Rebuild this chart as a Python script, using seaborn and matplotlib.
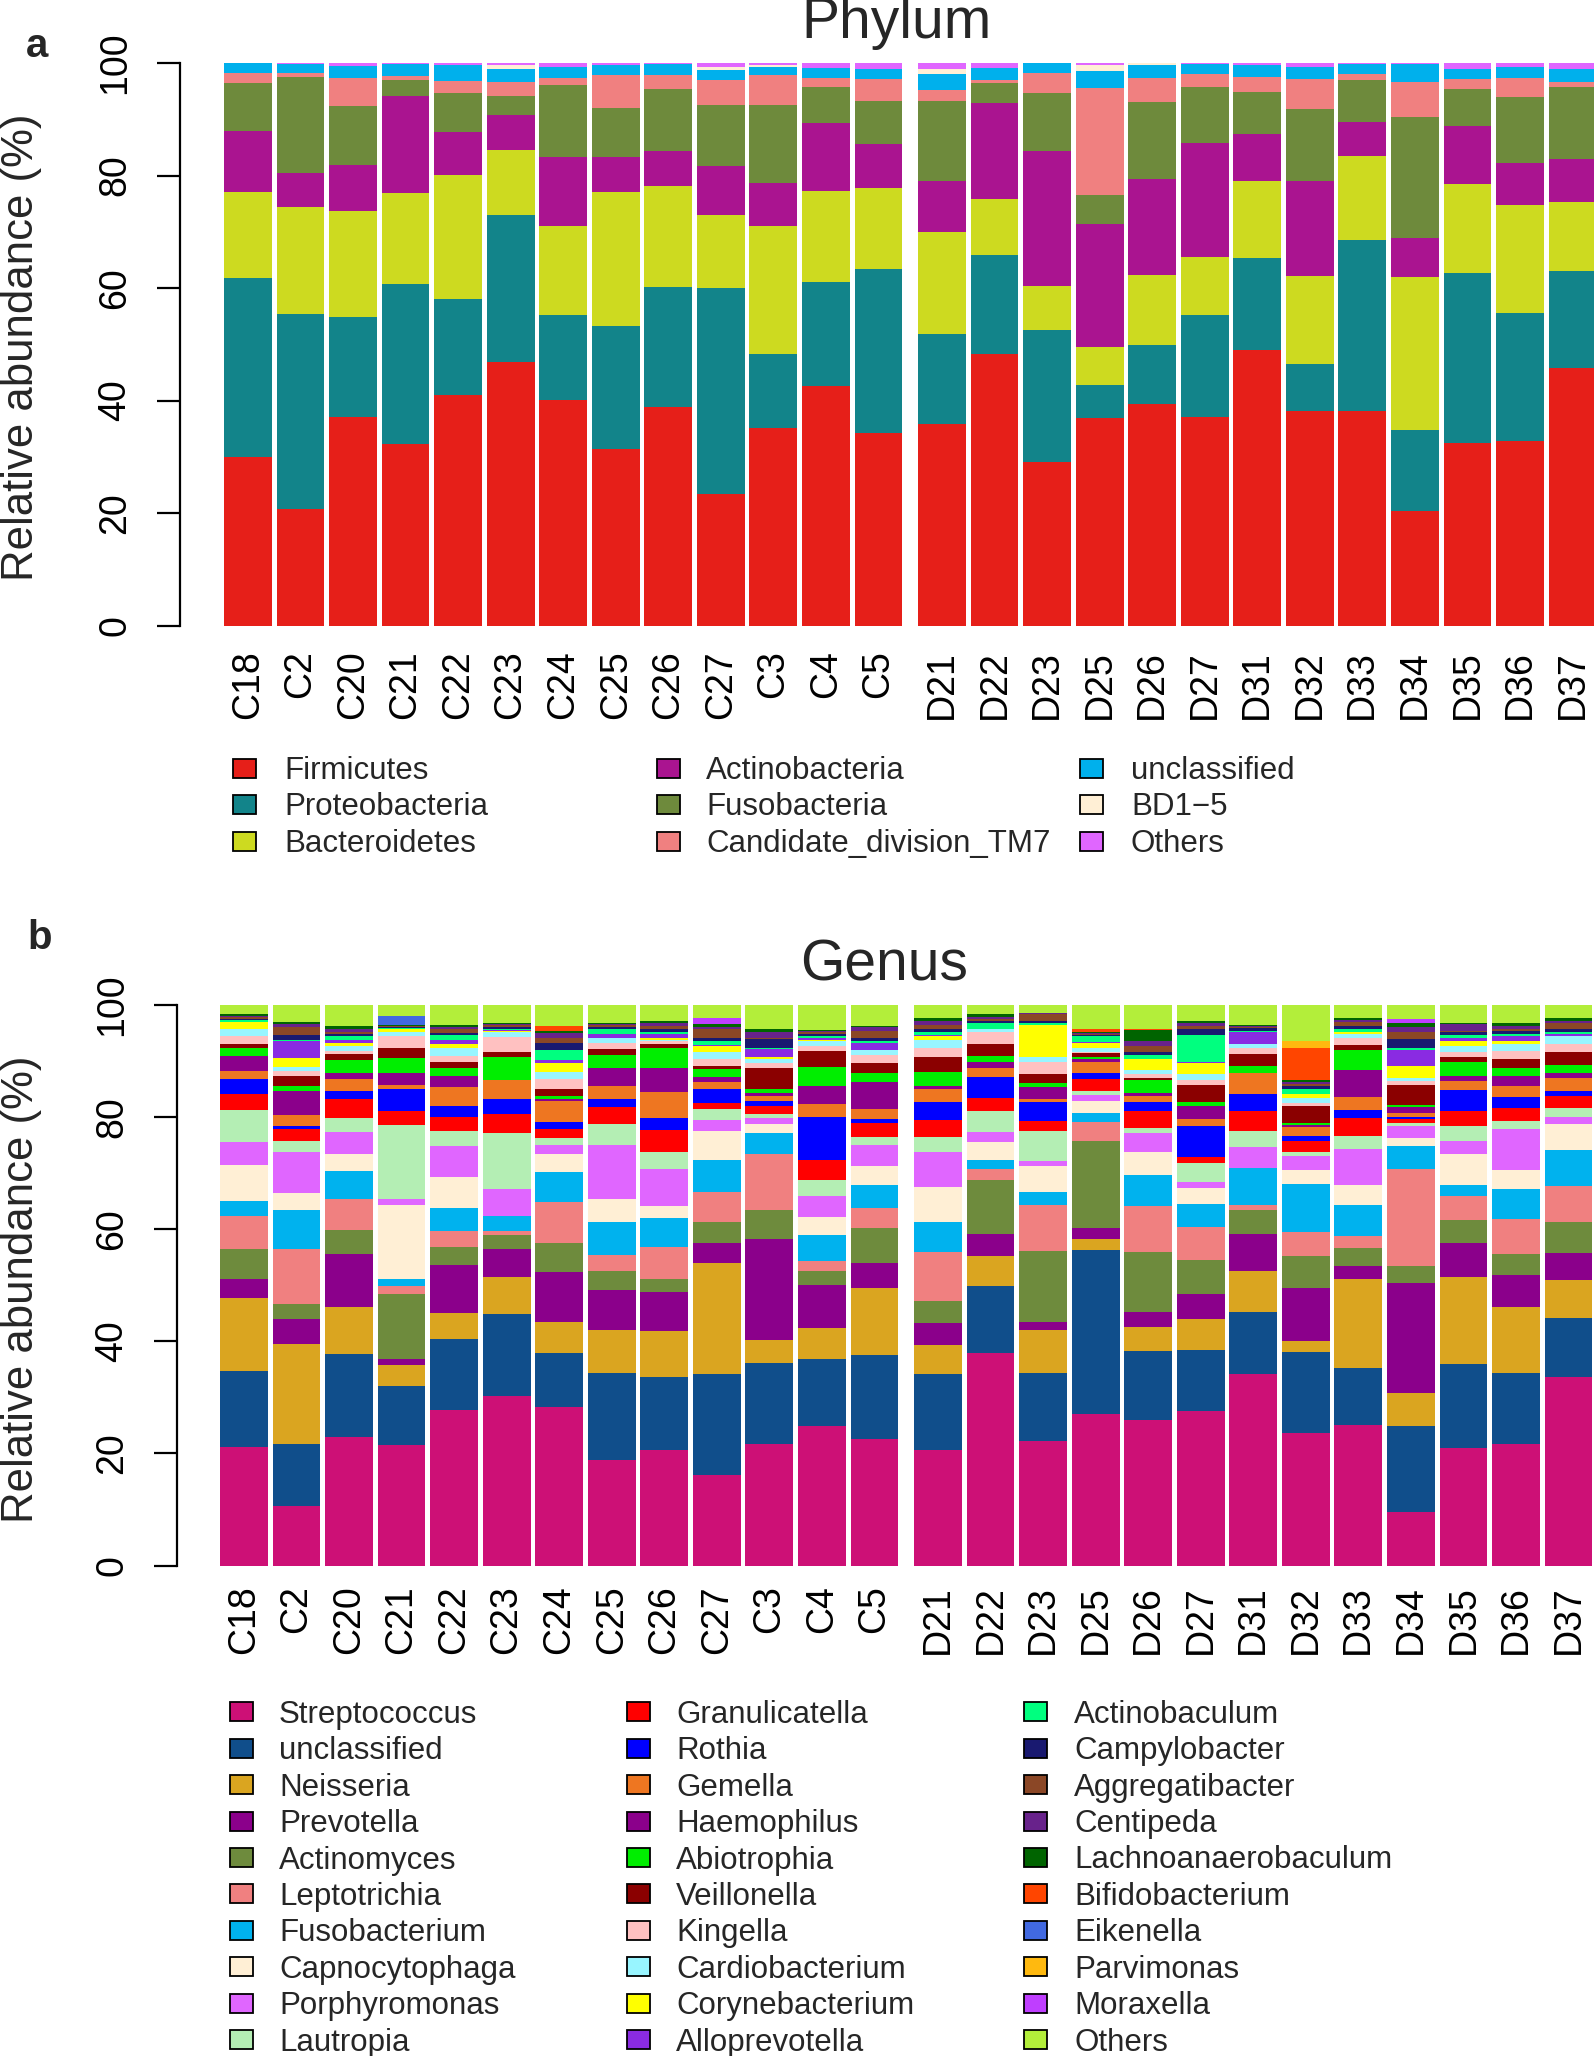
import numpy as np
import pandas as pd
import matplotlib
matplotlib.use("Agg")
import matplotlib.pyplot as plt
from matplotlib.patches import Rectangle
import seaborn as sns

# ---------------- data ----------------
samples = ["C18", "C2", "C20", "C21", "C22", "C23", "C24", "C25", "C26", "C27", "C3", "C4", "C5",
           "D21", "D22", "D23", "D25", "D26", "D27", "D31", "D32", "D33", "D34", "D35", "D36", "D37"]

phyla = ["Firmicutes", "Proteobacteria", "Bacteroidetes", "Actinobacteria", "Fusobacteria",
         "Candidate_division_TM7", "unclassified", "BD1\u22125", "Others"]
phylum_colors = ["#E61F19", "#12848A", "#CDDA20", "#AA1490", "#6E8A3C",
                 "#F08080", "#00B0EC", "#FFEFD5", "#E066FF"]

# phylum abundance (%) per sample, in the order of `phyla`
phy_C18 = [30.0, 31.8, 15.2, 11.0, 8.5, 1.7, 1.8, 0.0, 0.0]
phy_C2 = [20.8, 34.6, 19.0, 6.0, 17.2, 0.7, 1.6, 0.0, 0.1]
phy_C20 = [37.1, 17.8, 18.7, 8.2, 10.6, 4.9, 2.2, 0.0, 0.5]
phy_C21 = [32.2, 28.5, 16.1, 17.4, 2.8, 0.7, 2.2, 0.0, 0.1]
phy_C22 = [40.9, 17.2, 22.0, 7.6, 7.0, 2.1, 2.9, 0.0, 0.3]
phy_C23 = [46.8, 26.1, 11.6, 6.2, 3.4, 2.6, 2.3, 0.6, 0.4]
phy_C24 = [40.1, 15.1, 15.8, 12.3, 12.8, 1.2, 2.0, 0.0, 0.7]
phy_C25 = [31.3, 22.0, 23.7, 6.3, 8.7, 5.9, 1.7, 0.0, 0.4]
phy_C26 = [38.8, 21.3, 18.1, 6.1, 11.1, 2.4, 2.0, 0.0, 0.2]
phy_C27 = [23.4, 36.6, 12.9, 8.7, 11.0, 4.3, 1.8, 0.6, 0.7]
phy_C3 = [35.2, 13.0, 22.8, 7.6, 14.0, 5.2, 1.5, 0.3, 0.4]
phy_C4 = [42.5, 18.5, 16.3, 12.1, 6.3, 1.6, 1.9, 0.0, 0.8]
phy_C5 = [34.2, 29.2, 14.4, 7.8, 7.6, 4.0, 1.8, 0.0, 1.0]
phy_D21 = [35.8, 16.0, 18.1, 9.2, 14.1, 2.0, 2.9, 0.9, 1.0]
phy_D22 = [48.2, 17.7, 9.9, 17.1, 3.5, 0.5, 2.2, 0.0, 0.9]
phy_D23 = [29.0, 23.6, 7.8, 23.9, 10.4, 3.5, 1.8, 0.0, 0.0]
phy_D25 = [36.9, 5.8, 6.8, 21.9, 5.1, 19.0, 3.0, 1.1, 0.4]
phy_D26 = [39.3, 10.6, 12.4, 17.0, 13.8, 4.2, 2.4, 0.3, 0.0]
phy_D27 = [37.1, 18.1, 10.3, 20.3, 10.0, 2.2, 1.9, 0.0, 0.1]
phy_D31 = [49.0, 16.4, 13.6, 8.3, 7.5, 2.8, 2.1, 0.0, 0.3]
phy_D32 = [38.2, 8.2, 15.7, 16.9, 12.8, 5.3, 2.2, 0.0, 0.7]
phy_D33 = [38.1, 30.5, 14.9, 6.0, 7.4, 1.1, 1.9, 0.0, 0.1]
phy_D34 = [20.3, 14.5, 27.2, 6.9, 21.5, 6.3, 3.1, 0.0, 0.2]
phy_D35 = [32.5, 30.2, 15.8, 10.3, 6.6, 1.7, 1.9, 0.0, 1.0]
phy_D36 = [32.8, 22.8, 19.2, 7.4, 11.8, 3.3, 2.0, 0.0, 0.7]
phy_D37 = [45.7, 17.4, 12.2, 7.6, 12.8, 1.0, 2.3, 0.0, 1.0]

genera = ["Streptococcus", "unclassified", "Neisseria", "Prevotella", "Actinomyces",
          "Leptotrichia", "Fusobacterium", "Capnocytophaga", "Porphyromonas", "Lautropia",
          "Granulicatella", "Rothia", "Gemella", "Haemophilus", "Abiotrophia",
          "Veillonella", "Kingella", "Cardiobacterium", "Corynebacterium", "Alloprevotella",
          "Actinobaculum", "Campylobacter", "Aggregatibacter", "Centipeda", "Lachnoanaerobaculum",
          "Bifidobacterium", "Eikenella", "Parvimonas", "Moraxella", "Others"]
genus_colors = ["#CD1076", "#104E8B", "#DAA520", "#8B008B", "#6E8B3D",
                "#F08080", "#00B2EE", "#FFEFD5", "#E066FF", "#B4EEB4",
                "#FF0000", "#0000FF", "#EE7621", "#8B008B", "#00EE00",
                "#8B0000", "#FFC1C1", "#98F5FF", "#FFFF00", "#8A2BE2",
                "#00FF7F", "#191970", "#8B4726", "#68228B", "#006400",
                "#FF4500", "#4169E1", "#FFB90F", "#BF3EFF", "#B3EE3A"]

# genus abundance (%) per sample, in the order of `genera`
gen_C18 = [21.1, 13.6, 13.1, 3.4, 5.3, 5.8, 2.7, 6.4, 4.2, 5.6,
           2.9, 2.7, 1.4, 2.7, 1.4, 0.7, 1.4, 1.3, 1.3, 0.0,
           0.3, 0.2, 0.3, 0.2, 0.4, 0.0, 0.0, 0.0, 0.0, 1.6]
gen_C2 = [10.7, 11.0, 17.9, 4.3, 2.7, 9.9, 7.0, 2.9, 7.3, 2.0,
          2.1, 0.7, 1.8, 4.4, 0.9, 1.8, 0.8, 0.7, 1.7, 2.9,
          0.3, 0.9, 1.4, 0.5, 0.3, 0.0, 0.0, 0.0, 0.0, 3.1]
gen_C20 = [23.0, 14.8, 8.4, 9.4, 4.3, 5.4, 5.0, 3.1, 3.9, 2.5,
           3.4, 1.5, 2.1, 1.1, 2.2, 1.1, 0.6, 0.8, 0.7, 0.5,
           0.6, 0.4, 0.4, 0.5, 0.5, 0.0, 0.0, 0.0, 0.0, 3.8]
gen_C21 = [21.5, 10.6, 3.7, 1.0, 11.6, 1.5, 1.3, 13.2, 1.0, 13.2,
           2.5, 3.9, 0.7, 2.2, 2.7, 1.7, 2.1, 0.7, 0.6, 0.1,
           0.1, 0.1, 0.2, 0.1, 0.1, 0.0, 1.6, 0.0, 0.0, 2.1]
gen_C22 = [27.8, 12.6, 4.7, 8.6, 3.2, 2.8, 4.1, 5.5, 5.6, 2.6,
           2.5, 2.0, 3.3, 2.1, 1.3, 1.1, 1.1, 1.5, 0.6, 0.7,
           0.9, 0.4, 0.7, 0.3, 0.5, 0.0, 0.0, 0.0, 0.0, 3.5]
gen_C23 = [30.3, 14.6, 6.5, 5.0, 2.6, 0.7, 2.7, 0.0, 4.7, 10.1,
           3.4, 2.7, 3.3, 0.0, 4.2, 0.9, 2.6, 0.8, 0.2, 0.3,
           0.2, 0.3, 0.3, 0.2, 0.2, 0.0, 0.0, 0.0, 0.0, 3.2]
gen_C24 = [28.2, 9.8, 5.4, 9.0, 5.2, 7.3, 5.3, 3.2, 1.7, 1.1,
           1.6, 1.3, 3.7, 0.4, 0.6, 1.3, 1.7, 1.2, 1.6, 0.6,
           1.7, 1.3, 1.0, 0.8, 0.4, 0.9, 0.0, 0.0, 0.0, 3.7]
gen_C25 = [18.8, 15.5, 7.8, 7.1, 3.3, 2.9, 5.9, 4.0, 9.8, 3.7,
           3.0, 1.4, 2.4, 3.1, 2.4, 1.1, 1.0, 0.9, 0.0, 0.7,
           0.9, 0.4, 0.3, 0.2, 0.2, 0.0, 0.0, 0.0, 0.0, 3.2]
gen_C26 = [20.6, 13.0, 8.2, 7.0, 2.4, 5.7, 5.1, 2.1, 6.7, 2.9,
           4.0, 2.2, 4.5, 4.3, 3.6, 0.7, 0.5, 0.3, 0.4, 0.6,
           0.4, 0.5, 0.6, 0.4, 0.5, 0.0, 0.0, 0.0, 0.0, 2.8]
gen_C27 = [16.1, 18.0, 19.8, 3.7, 3.7, 5.4, 5.6, 5.3, 1.9, 1.9,
           1.2, 2.5, 1.1, 0.9, 1.5, 0.5, 1.2, 1.4, 0.9, 0.3,
           0.6, 0.6, 1.6, 0.4, 0.5, 0.0, 0.0, 0.0, 1.1, 2.3]
gen_C3 = [21.7, 14.5, 4.0, 18.0, 5.2, 10.0, 3.8, 1.5, 1.1, 0.7,
          1.5, 0.8, 1.0, 0.5, 0.7, 3.8, 0.8, 0.7, 0.4, 1.4,
          0.3, 1.5, 0.2, 1.0, 0.6, 0.0, 0.0, 0.0, 0.0, 4.3]
gen_C4 = [24.8, 12.0, 5.5, 7.7, 2.6, 1.8, 4.5, 3.3, 3.7, 2.8,
          3.6, 7.8, 2.3, 3.1, 3.4, 2.9, 0.9, 0.8, 0.3, 0.3,
          0.3, 0.4, 0.3, 0.3, 0.2, 0.0, 0.0, 0.0, 0.0, 4.4]
gen_C5 = [22.6, 15.0, 11.9, 4.4, 6.3, 3.6, 4.0, 3.5, 3.8, 1.3,
          2.6, 0.7, 1.7, 4.9, 1.5, 1.9, 1.3, 0.9, 0.0, 1.4,
          0.3, 0.6, 1.2, 0.6, 0.2, 0.0, 0.0, 0.0, 0.0, 3.8]
gen_D21 = [20.6, 13.5, 5.3, 3.9, 3.9, 8.7, 5.3, 6.3, 6.2, 2.8,
           3.0, 3.2, 2.3, 0.5, 2.6, 2.7, 1.6, 1.4, 0.6, 0.2,
           0.6, 0.5, 0.8, 0.6, 0.5, 0.0, 0.0, 0.0, 0.0, 2.4]
gen_D22 = [38.0, 11.9, 5.4, 3.8, 9.7, 1.9, 1.6, 3.3, 1.8, 3.7,
           2.3, 3.8, 1.5, 1.2, 1.0, 2.1, 2.1, 0.6, 0.0, 0.1,
           1.0, 0.4, 0.3, 0.4, 0.5, 0.0, 0.0, 0.0, 0.0, 1.6]
gen_D23 = [22.3, 12.0, 7.8, 1.4, 12.6, 8.3, 2.2, 4.6, 1.0, 5.3,
           1.8, 3.4, 0.5, 2.1, 0.7, 1.7, 2.2, 0.8, 5.7, 0.0,
           0.4, 0.4, 1.2, 0.2, 0.0, 0.0, 0.0, 0.0, 0.0, 1.4]
gen_D25 = [27.0, 29.3, 2.0, 1.9, 15.5, 3.5, 1.6, 2.0, 1.1, 0.7,
           2.2, 1.0, 2.1, 0.5, 0.4, 0.6, 0.3, 0.7, 0.9, 0.1,
           1.0, 0.2, 0.2, 0.2, 0.1, 0.7, 0.0, 0.0, 0.0, 4.2]
gen_D26 = [25.9, 12.3, 4.3, 2.8, 10.6, 8.2, 5.5, 4.1, 3.4, 1.0,
           2.9, 1.7, 1.1, 0.5, 2.3, 0.4, 0.7, 0.7, 1.9, 0.0,
           0.8, 0.6, 0.9, 1.0, 1.9, 0.3, 0.0, 0.0, 0.0, 4.2]
gen_D27 = [27.6, 10.8, 5.5, 4.6, 6.0, 5.9, 4.1, 2.8, 1.2, 3.3,
           1.0, 5.6, 1.3, 2.3, 0.7, 3.0, 0.9, 1.1, 1.9, 0.3,
           4.7, 1.1, 0.6, 0.5, 0.3, 0.0, 0.0, 0.0, 0.0, 2.9]
gen_D31 = [34.1, 11.2, 7.2, 6.7, 4.2, 0.9, 6.7, 0.0, 3.6, 2.9,
           3.5, 3.1, 3.7, 0.0, 1.4, 2.0, 1.2, 0.6, 0.0, 2.1,
           0.3, 0.5, 0.2, 0.2, 0.1, 0.0, 0.0, 0.0, 0.0, 3.6]
gen_D32 = [23.7, 14.4, 1.9, 9.5, 5.8, 4.2, 8.5, 2.6, 2.4, 0.7,
           2.0, 0.9, 1.7, 0.3, 0.4, 2.9, 0.7, 0.8, 0.7, 0.0,
           1.0, 0.5, 0.3, 0.3, 0.4, 5.7, 0.0, 1.2, 0.0, 6.5]
gen_D33 = [25.1, 10.2, 15.9, 2.3, 3.2, 2.1, 5.5, 3.5, 6.5, 2.4,
           3.1, 1.4, 2.3, 4.9, 3.6, 0.9, 1.3, 0.6, 0.3, 0.1,
           0.5, 0.6, 0.7, 0.3, 0.3, 0.0, 0.0, 0.0, 0.0, 2.4]
gen_D34 = [9.6, 15.3, 5.8, 19.7, 3.1, 17.3, 4.1, 1.4, 2.1, 0.5,
           0.8, 0.4, 0.6, 1.1, 0.4, 3.5, 0.8, 0.4, 2.3, 2.8,
           0.4, 1.5, 1.3, 0.9, 0.6, 0.0, 0.0, 0.0, 0.8, 2.5]
gen_D35 = [21.0, 14.9, 15.6, 6.1, 4.0, 4.4, 1.9, 5.5, 2.3, 2.8,
           2.6, 3.8, 1.6, 0.9, 2.4, 1.0, 0.9, 1.0, 0.8, 0.6,
           0.5, 0.5, 0.2, 1.3, 0.1, 0.0, 0.0, 0.0, 0.0, 3.3]
gen_D36 = [21.7, 12.7, 11.7, 5.7, 3.7, 6.3, 5.4, 3.3, 7.4, 1.4,
           2.3, 1.9, 2.1, 1.7, 1.5, 1.6, 1.4, 1.2, 0.6, 0.9,
           0.4, 0.4, 0.4, 0.5, 0.6, 0.0, 0.0, 0.0, 0.0, 3.2]
gen_D37 = [33.6, 10.6, 6.8, 4.7, 5.5, 6.5, 6.4, 4.6, 1.4, 1.5,
           2.2, 0.8, 2.3, 0.9, 1.5, 2.3, 1.4, 1.5, 0.0, 0.4,
           0.3, 0.6, 0.9, 0.4, 0.5, 0.0, 0.0, 0.0, 0.0, 2.4]

phylum_rows = [phy_C18, phy_C2, phy_C20, phy_C21, phy_C22, phy_C23, phy_C24, phy_C25, phy_C26,
               phy_C27, phy_C3, phy_C4, phy_C5, phy_D21, phy_D22, phy_D23, phy_D25, phy_D26,
               phy_D27, phy_D31, phy_D32, phy_D33, phy_D34, phy_D35, phy_D36, phy_D37]
genus_rows = [gen_C18, gen_C2, gen_C20, gen_C21, gen_C22, gen_C23, gen_C24, gen_C25, gen_C26,
              gen_C27, gen_C3, gen_C4, gen_C5, gen_D21, gen_D22, gen_D23, gen_D25, gen_D26,
              gen_D27, gen_D31, gen_D32, gen_D33, gen_D34, gen_D35, gen_D36, gen_D37]

phylum_df = pd.DataFrame(phylum_rows, index=samples, columns=phyla)
genus_df = pd.DataFrame(genus_rows, index=samples, columns=genera)
phylum_cmap = dict(zip(phyla, phylum_colors))
genus_cmap = dict(zip(genera, genus_colors))

# ---------------- styling / layout ----------------
sns.set_theme(style="white")
plt.rcParams["font.family"] = ["Liberation Sans", "DejaVu Sans"]

W, H = 1594, 2056
fig = plt.figure(figsize=(W / 100, H / 100), dpi=100)


def fx(px):
    return px / W


def fy(py):
    return 1 - py / H


PITCH = 1.1          # bar width 1 + space 0.1 (R barplot style)
GROUP_GAP = 0.23     # extra space between the C and D groups
xpos = np.array([i * PITCH for i in range(13)] +
                [13 * PITCH + GROUP_GAP + j * PITCH for j in range(13)])
UNIT_PX = 47.77


def draw_stack(ax, df, cmap):
    cum = df.cumsum(axis=1)
    for name in df.columns[::-1]:
        sns.barplot(x=xpos, y=cum[name].to_numpy(), native_scale=True, orient="x",
                    width=1 / PITCH, color=cmap[name], saturation=1,
                    linewidth=0, edgecolor="none", errorbar=None, ax=ax)


def make_panel(df, cmap, left_px, top_px, bottom_px, first_bar_px, label_pad):
    ax = fig.add_axes([fx(left_px), fy(bottom_px), 1 - fx(left_px), (bottom_px - top_px) / H])
    ax.set_facecolor("none")
    draw_stack(ax, df, cmap)
    x0 = xpos[0] - 0.5 - (first_bar_px - left_px) / UNIT_PX
    x1 = x0 + (W - left_px) / UNIT_PX
    ax.set_xlim(x0, x1)
    ax.set_ylim(0, 100)
    for s in ["top", "right", "bottom"]:
        ax.spines[s].set_visible(False)
    ax.spines["left"].set_bounds(0, 100)
    ax.spines["left"].set_linewidth(1.6)
    ax.spines["left"].set_color("black")
    ax.grid(False)
    ax.set_yticks([0, 20, 40, 60, 80, 100])
    ax.set_yticklabels(["0", "20", "40", "60", "80", "100"])
    ax.tick_params(axis="y", left=True, length=16.5, width=1.6, color="black",
                   pad=17, labelsize=27, labelcolor="black", direction="out")
    for t in ax.get_yticklabels():
        t.set_rotation(90)
        t.set_va("center")
    ax.set_xticks(xpos)
    ax.set_xticklabels(samples, rotation=90, fontsize=27, color="black")
    ax.tick_params(axis="x", bottom=False, length=0, pad=label_pad)
    ax.set_xlabel("")
    ax.set_ylabel("")
    return ax


ax_a = make_panel(phylum_df, phylum_cmap, left_px=180, top_px=63, bottom_px=625.5,
                  first_bar_px=224, label_pad=18)
ax_b = make_panel(genus_df, genus_cmap, left_px=177, top_px=1005, bottom_px=1565.5,
                  first_bar_px=220, label_pad=14)

# titles, panel letters, y labels
fig.text(fx(896), fy(38), "Phylum", ha="center", va="baseline", fontsize=41)
fig.text(fx(884), fy(980), "Genus", ha="center", va="baseline", fontsize=41)
fig.text(fx(26), fy(57), "a", ha="left", va="baseline", fontsize=29, fontweight="bold")
fig.text(fx(27), fy(949), "b", ha="left", va="baseline", fontsize=29, fontweight="bold")
for yc in (347, 1289):
    fig.text(fx(33), fy(yc), "Relative abundance (%)", rotation=90, rotation_mode="anchor",
             ha="center", va="baseline", fontsize=31.5)


def draw_legend(names, cmap, box_x, text_x, y0, dy, nrow, fs=22.5):
    for k, name in enumerate(names):
        c, r = divmod(k, nrow)
        yc = y0 + r * dy
        fig.add_artist(Rectangle((fx(box_x[c]), fy(yc + 9.5)), 23 / W, 19 / H,
                                 transform=fig.transFigure, facecolor=cmap[name],
                                 edgecolor="black", linewidth=1.3))
        fig.text(fx(text_x[c]), fy(yc + 11), name, ha="left", va="baseline", fontsize=fs)


draw_legend(phyla, phylum_cmap, [233, 657, 1080], [284, 706, 1131], 768, 36.5, 3)
draw_legend(genera, genus_cmap, [230, 627, 1024], [279, 676, 1074], 1711.7, 36.45, 10)

fig.savefig("out.png", dpi=100)
